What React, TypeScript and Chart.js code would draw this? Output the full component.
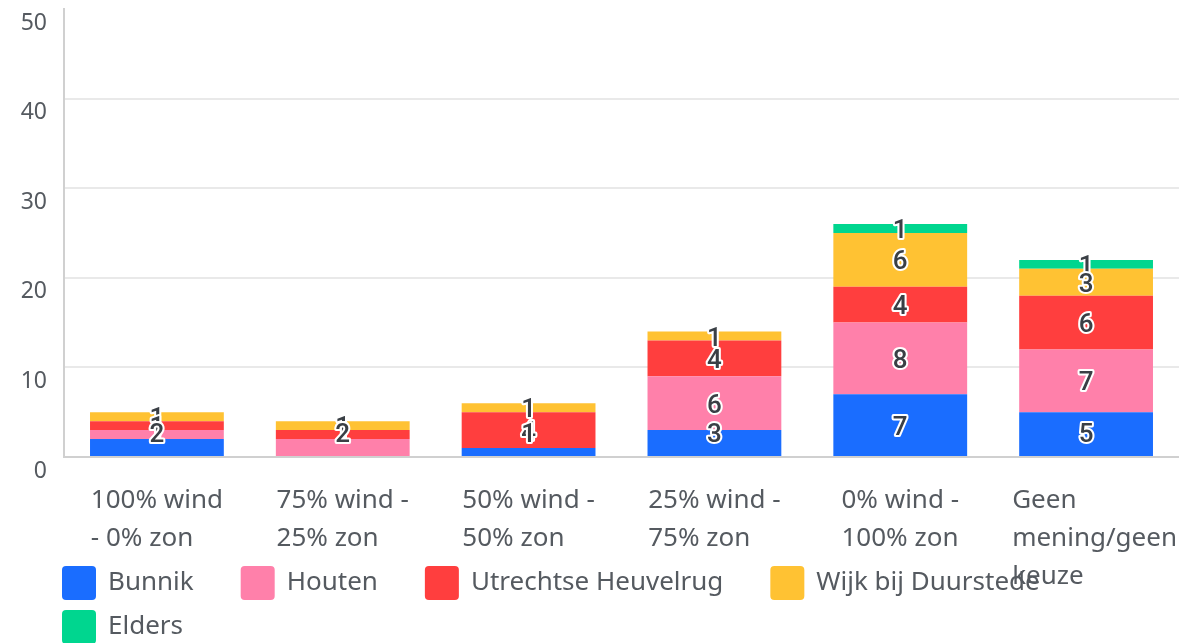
import React, { useEffect, useRef } from "react";
import { Chart, registerables } from "chart.js";
Chart.register(...registerables);

const categories: string[][] = [
  ["100% wind", "- 0% zon"],
  ["75% wind -", "25% zon"],
  ["50% wind -", "50% zon"],
  ["25% wind -", "75% zon"],
  ["0% wind -", "100% zon"],
  ["Geen", "mening/geen", "keuze"],
];
const seriesNames = ["Bunnik", "Houten", "Utrechtse Heuvelrug", "Wijk bij Duurstede", "Elders"];
const bunnik = [2, 0, 1, 3, 7, 5];
const houten = [1, 2, 0, 6, 8, 7];
const utrechtseHeuvelrug = [1, 1, 4, 4, 4, 6];
const wijkBijDuurstede = [1, 1, 1, 1, 6, 3];
const elders = [0, 0, 0, 0, 1, 1];
const yTicks = [0, 10, 20, 30, 40, 50];
const seriesColors = ["#1a6dff", "#ff80aa", "#ff3e3e", "#ffc233", "#00d68f"];

const FONT = '"Noto Sans", sans-serif';
const TEXT = "#555a60";

const segLabels = {
  id: "segLabels",
  afterDatasetsDraw(chart: any) {
    const ctx = chart.ctx;
    const base = chart.scales.y.getPixelForValue(0);
    ctx.save();
    ctx.font = `500 26px Roboto, sans-serif`;
    ctx.textAlign = "center";
    ctx.textBaseline = "middle";
    ctx.lineWidth = 4;
    ctx.lineJoin = "round";
    ctx.strokeStyle = "#ffffff";
    ctx.fillStyle = "#3a3f45";
    for (let d = chart.data.datasets.length - 1; d >= 0; d--) {
      const meta = chart.getDatasetMeta(d);
      meta.data.forEach((bar: any, i: number) => {
        const v = chart.data.datasets[d].data[i];
        if (!v) return;
        const p = bar.getProps(["x", "y", "base"], true);
        const cy = Math.min((p.y + p.base) / 2 + 3, base - 22);
        ctx.strokeText(String(v), p.x, cy);
        ctx.fillText(String(v), p.x, cy);
      });
    }
    ctx.restore();
  },
};

const xLabels = {
  id: "xLabels",
  afterDraw(chart: any) {
    const ctx = chart.ctx;
    const xs = chart.scales.x;
    const base = chart.scales.y.getPixelForValue(0);
    const bar0 = chart.getDatasetMeta(0).data[0] as any;
    const barW = bar0 ? bar0.getProps(["width"], true).width : 134;
    ctx.save();
    ctx.font = `26px ${FONT}`;
    ctx.fillStyle = TEXT;
    ctx.textAlign = "left";
    ctx.textBaseline = "middle";
    categories.forEach((lines, i) => {
      const cx = xs.getPixelForTick(i);
      const full = Math.max(...lines.map((l) => ctx.measureText(l).width));
      const w = Math.min(barW, full);
      const sx = Math.min(cx - w / 2, chart.width - full - 2);
      lines.forEach((l, k) => ctx.fillText(l, sx, base + 44 + k * 38));
    });
    ctx.restore();
  },
};

const legendPlugin = {
  id: "customLegend",
  afterDraw(chart: any) {
    const ctx = chart.ctx;
    ctx.save();
    ctx.font = `26px ${FONT}`;
    ctx.textBaseline = "middle";
    ctx.textAlign = "left";
    let x = 62;
    let y = 583;
    const right = chart.width;
    chart.data.datasets.forEach((ds: any) => {
      const tw = ctx.measureText(ds.label).width;
      const itemW = 46 + tw;
      if (x + itemW > right) {
        x = 62;
        y += 44;
      }
      ctx.fillStyle = ds.backgroundColor;
      ctx.beginPath();
      (ctx as any).roundRect(x, y - 17, 34, 34, 4);
      ctx.fill();
      ctx.fillStyle = TEXT;
      ctx.fillText(ds.label, x + 46, y);
      x += itemW + 47;
    });
    ctx.restore();
  },
};

export default function App() {
  const ref = useRef<HTMLCanvasElement>(null);
  useEffect(() => {
    document.body.style.margin = "0";
    const seriesData = [bunnik, houten, utrechtseHeuvelrug, wijkBijDuurstede, elders];
    const chart = new Chart(ref.current!, {
      type: "bar",
      data: {
        labels: categories.map((c) => c.join(" ")),
        datasets: seriesNames.map((name, i) => ({
          label: name,
          data: seriesData[i],
          backgroundColor: seriesColors[i],
          borderWidth: 0,
          categoryPercentage: 0.8,
          barPercentage: 0.9,
        })),
      },
      options: {
        responsive: false,
        animation: false,
        layout: { padding: { top: 9, left: 0, right: 0, bottom: 0 } },
        plugins: { legend: { display: false }, tooltip: { enabled: false } },
        scales: {
          x: {
            stacked: true,
            grid: { display: false },
            border: { display: true, color: "#d0d0d0", width: 2 },
            ticks: { display: false },
            afterFit: (s: any) => {
              s.height = 186;
              s.paddingLeft = 0;
              s.paddingRight = 0;
            },
          },
          y: {
            stacked: true,
            min: 0,
            max: 50,
            afterBuildTicks: (s: any) => {
              s.ticks = yTicks.map((v) => ({ value: v }));
            },
            grid: {
              drawTicks: false,
              color: (c: any) => (c.tick && c.tick.value === 50 ? "rgba(0,0,0,0)" : "#e9e9e9"),
              lineWidth: 2,
            },
            border: { display: true, color: "#d0d0d0", width: 2 },
            ticks: {
              padding: 17,
              labelOffset: 14,
              color: TEXT,
              font: { family: FONT, size: 23 },
            },
            afterFit: (s: any) => {
              s.width = 64;
              s.paddingTop = 0;
              s.paddingBottom = 0;
            },
          },
        },
      },
      plugins: [segLabels, xLabels, legendPlugin],
    });
    return () => chart.destroy();
  }, []);
  return (
    <div style={{ width: 1179, height: 643, overflow: "hidden" }}>
      <canvas ref={ref} width={1179} height={643} style={{ display: "block" }} />
    </div>
  );
}
